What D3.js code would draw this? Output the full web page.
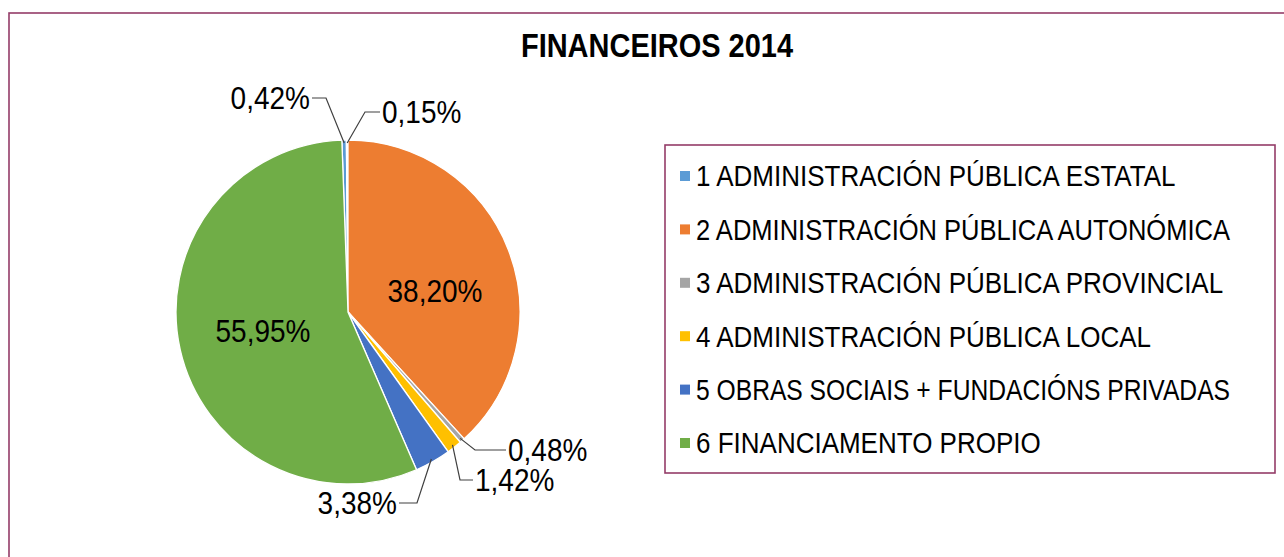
<!DOCTYPE html>
<html>
<head>
<meta charset="utf-8">
<script src="https://cdn.jsdelivr.net/npm/d3@7"></script>
<style>
  body { margin: 0; background: #fff; }
  svg { display: block; font-family: "Liberation Sans", Arial, sans-serif; }
</style>
</head>
<body>
<div class="chart"></div>
<script>
const categories = [
  "1 ADMINISTRACIÓN PÚBLICA ESTATAL",
  "",
  "2 ADMINISTRACIÓN PÚBLICA AUTONÓMICA",
  "3 ADMINISTRACIÓN PÚBLICA PROVINCIAL",
  "4 ADMINISTRACIÓN PÚBLICA LOCAL",
  "5 OBRAS SOCIAIS + FUNDACIÓNS PRIVADAS",
  "6 FINANCIAMENTO PROPIO"
];
const values = [0.42, 0.15, 38.2, 0.48, 1.42, 3.38, 55.95];
const labels = ["0,42%", "0,15%", "38,20%", "0,48%", "1,42%", "3,38%", "55,95%"];
const colors = ["#5b9bd5", "#ffffff", "#ed7d31", "#a5a5a5", "#ffc000", "#4472c4", "#70ad47"];

const width = 1284,
  height = 557;
const cx = 348,
  cy = 312,
  r = 172;
const stretch = 1.12;
const border = "#943c68";

// label placement (relative to pie centre); hook = leader line, none for inside labels
const labelLayout = [
  { x: -38, y: -214, anchor: "end", hook: 14 },
  { x: 34, y: -200, anchor: "start", hook: 15 },
  { x: 87, y: -21, anchor: "middle" },
  { x: 160, y: 138, anchor: "start", hook: 31 },
  { x: 127, y: 168, anchor: "start", hook: 13 },
  { x: 49, y: 191, anchor: "end", hook: 18 },
  { x: -85, y: 19, anchor: "middle" }
];

const svg = d3
  .select(".chart")
  .append("svg")
  .attr("width", width)
  .attr("height", height);

svg
  .append("rect")
  .attr("x", 9)
  .attr("y", 13)
  .attr("width", width + 20)
  .attr("height", height + 20)
  .attr("fill", "#fff")
  .attr("stroke", border)
  .attr("stroke-width", 1.6);

const stretched = (sel, x, y) =>
  sel.attr("transform", `translate(${x},${y}) scale(1,${stretch})`);

stretched(svg.append("g"), 657, 45)
  .append("text")
  .attr("text-anchor", "middle")
  .attr("dy", "0.36em")
  .attr("font-size", 29)
  .attr("font-weight", "bold")
  .text("FINANCEIROS 2014");

const offset = (-(values[0] + values[1]) / 100) * 2 * Math.PI;
const pie = d3
  .pie()
  .sort(null)
  .startAngle(offset)
  .endAngle(offset + 2 * Math.PI);
const arcs = pie(values);

const arc = d3.arc().innerRadius(0).outerRadius(r);
const g = svg.append("g").attr("transform", `translate(${cx},${cy})`);

g.selectAll("path")
  .data(arcs)
  .enter()
  .append("path")
  .attr("d", arc)
  .attr("fill", (d, i) => colors[i])
  .attr("stroke", "#fff")
  .attr("stroke-width", 1.3);

arcs.forEach((d, i) => {
  const lay = labelLayout[i];
  if (lay.hook) {
    const mid = (d.startAngle + d.endAngle) / 2;
    const p0 = [Math.sin(mid) * (r - 3), -Math.cos(mid) * (r - 3)];
    const dir = lay.anchor === "end" ? 1 : -1;
    const edge = lay.x + dir * 2;
    const elbow = [edge + dir * lay.hook, lay.y];
    g.append("path")
      .attr("d", d3.line()([p0, elbow, [edge, lay.y]]))
      .attr("fill", "none")
      .attr("stroke", "#404040")
      .attr("stroke-width", 1.2);
  }
  stretched(g.append("g"), lay.x, lay.y)
    .append("text")
    .attr("text-anchor", lay.anchor)
    .attr("dy", "0.36em")
    .attr("font-size", 28)
    .text(labels[i]);
});

// legend
const legendItems = categories
  .map((c, i) => ({ name: c, color: colors[i] }))
  .filter((d) => d.name !== "");

const legend = svg.append("g");
legend
  .append("rect")
  .attr("x", 665)
  .attr("y", 145)
  .attr("width", 610)
  .attr("height", 328)
  .attr("fill", "#fff")
  .attr("stroke", border)
  .attr("stroke-width", 1.6);

const rowY = d3
  .scalePoint()
  .domain(legendItems.map((d) => d.name))
  .range([176, 443]);

const rows = legend
  .selectAll(".row")
  .data(legendItems)
  .enter()
  .append("g")
  .attr("class", "row")
  .attr("transform", (d) => `translate(680,${rowY(d.name)})`);

rows
  .append("rect")
  .attr("x", 0)
  .attr("y", -5)
  .attr("width", 10)
  .attr("height", 10)
  .attr("fill", (d) => d.color);

const maxText = 534;
rows
  .append("g")
  .attr("transform", `translate(16,0) scale(1,${stretch})`)
  .append("text")
  .attr("dy", "0.36em")
  .attr("font-size", 26)
  .text((d) => d.name)
  .each(function () {
    // squeeze entries that would overflow the legend box
    if (this.getComputedTextLength() > maxText) {
      d3.select(this)
        .attr("textLength", maxText)
        .attr("lengthAdjust", "spacingAndGlyphs");
    }
  });
</script>
</body>
</html>
